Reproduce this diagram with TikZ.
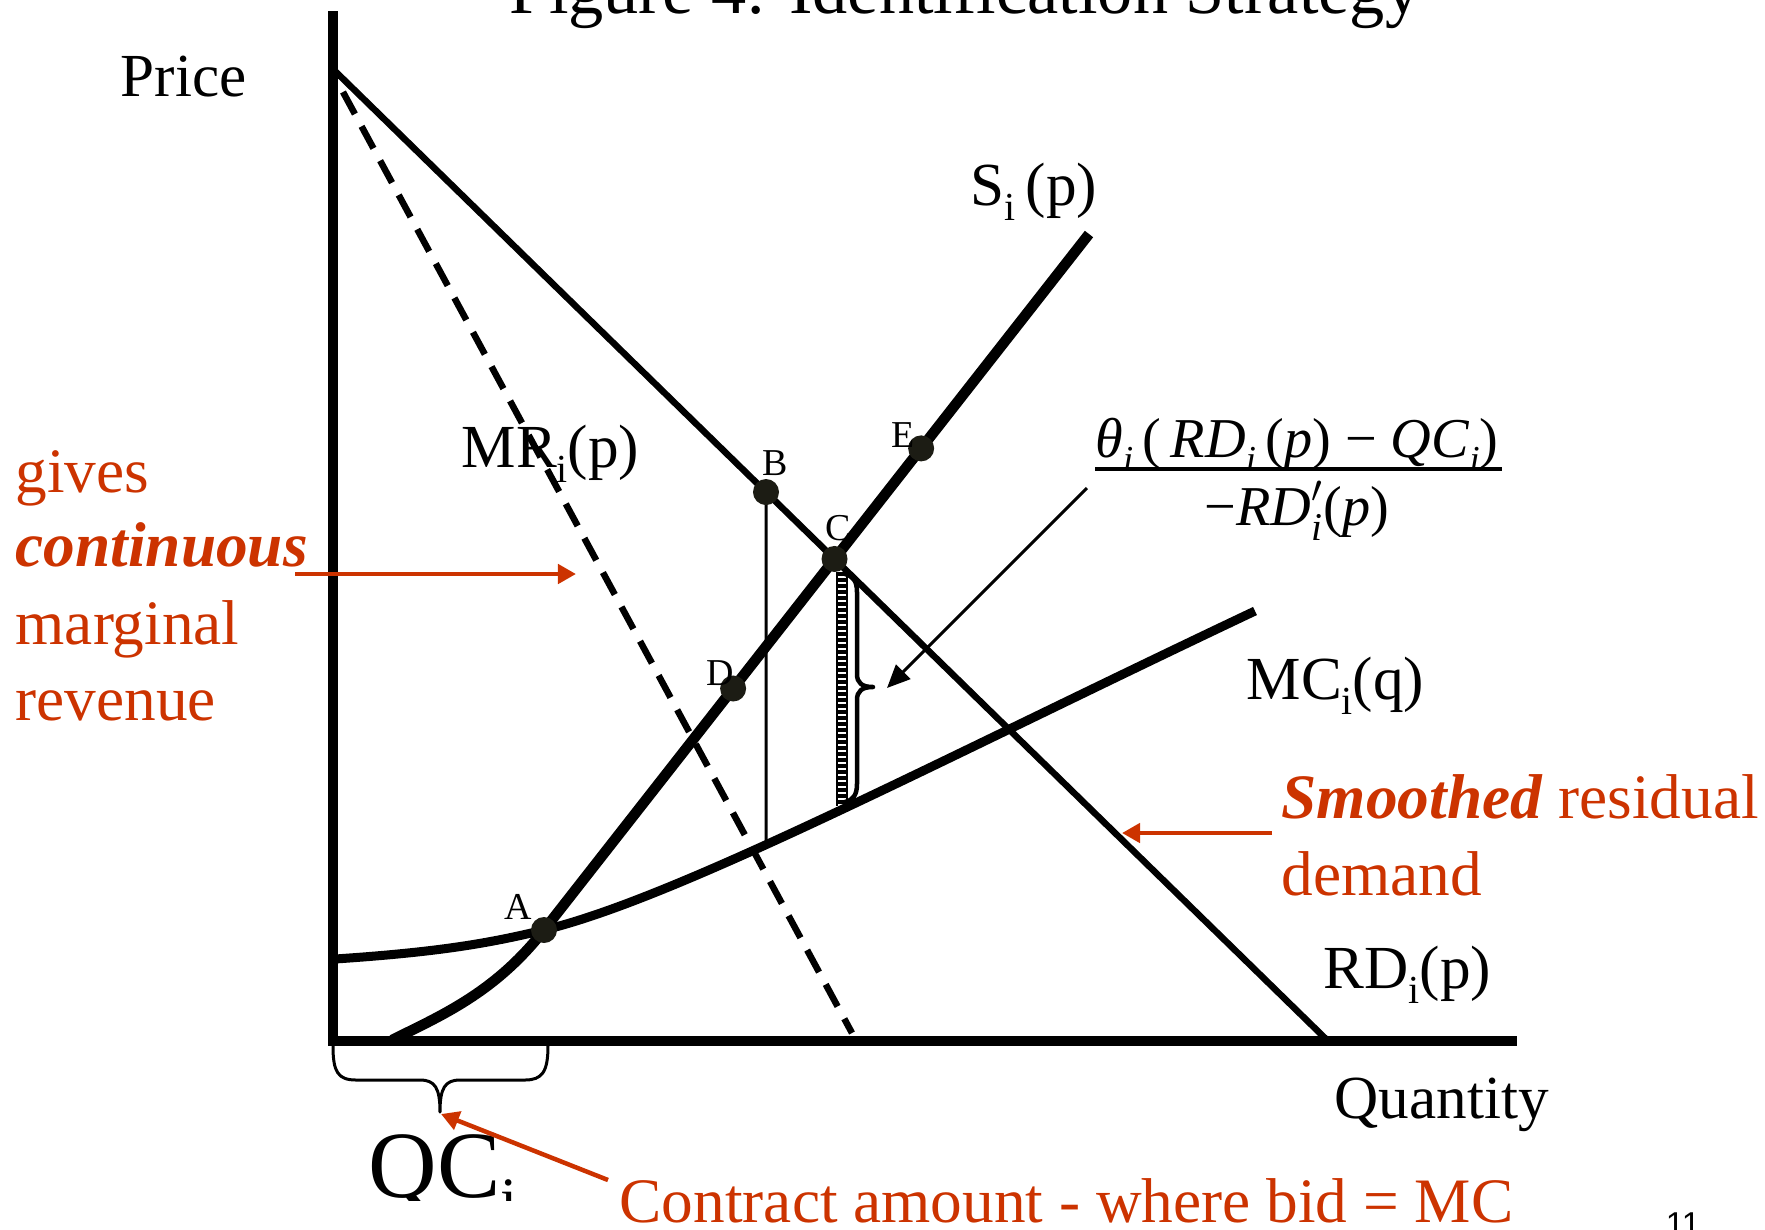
\documentclass[tikz,border=0pt]{standalone}
\usepackage{fontspec}
\setmainfont{Liberation Serif}
\newfontfamily\pagenofont{Liberation Sans}
\usetikzlibrary{arrows.meta,intersections,positioning}
\definecolor{ink}{HTML}{000000}
\definecolor{dotink}{HTML}{1C1C14}
\definecolor{rust}{HTML}{CC3300}
\newcommand{\sbi}{\raisebox{-0.25em}{\scalebox{0.65}{i}}}
\newcommand{\sbit}{\raisebox{-0.25em}{\scalebox{0.65}{\itshape i}}}
\tikzset{
  axis/.style={line width=0.095cm,draw=ink},
  rdline/.style={line width=0.065cm,draw=ink},
  sline/.style={line width=0.105cm,draw=ink},
  mcline/.style={line width=0.09cm,draw=ink},
  mrline/.style={line width=0.065cm,draw=ink,dash pattern=on 0.25cm off 0.14cm},
  guide/.style={line width=0.03cm,draw=ink},
  rail/.style={line width=0.018cm,draw=ink},
  ladder/.style={line width=0.1cm,draw=ink,dash pattern=on 0.035cm off 0.025cm},
  bracepath/.style={line width=0.03cm,draw=ink,line join=round},
  ptdot/.style={circle,fill=dotink,inner sep=0pt,minimum size=0.26cm},
  ptlbl/.style={font=\fontsize{10.8}{13}\selectfont,inner sep=0pt},
  lbl/.style={font=\fontsize{17.4}{21}\selectfont,inner sep=0pt,anchor=base west},
  redlbl/.style={font=\fontsize{18}{21.6}\selectfont,text=rust,inner sep=0pt,anchor=base west},
  fraclbl/.style={font=\fontsize{16}{19}\selectfont,inner sep=0pt,anchor=base},
  redarrow/.style={-{Triangle[length=0.18cm,width=0.19cm]},line width=0.045cm,draw=rust},
  fracarrow/.style={-{Triangle[length=0.23cm,width=0.2cm]},line width=0.03cm,draw=ink}
}
\begin{document}
\begin{tikzpicture}[x=0.01cm,y=-0.01cm]
  \useasboundingbox (0,0) rectangle (1765,1229);
  % axes and titles
  \coordinate (O) at (333,1041);
  \coordinate (ytop) at (333,11);
  \coordinate (xend) at (1517,1041);
  \draw[axis] (ytop) -- (O) -- (xend);
  \node[lbl] (price) at (120,96) {Price};
  \node[lbl] (qty) at (1334,1118) {Quantity};
  \node[font=\fontsize{20}{24}\selectfont,anchor=base,inner sep=0pt] (title) at (965,13) {Figure 4: Identification Strategy};
  \node[font=\pagenofont\fontsize{9.4}{11}\selectfont,anchor=base,inner sep=0pt] (pageno) at (1683,1235) {11};

  % curves
  \coordinate (rdtop) at (336,72);
  \coordinate (rdfoot) at (1328,1041);
  \coordinate (mrtop) at (343,92);
  \coordinate (mrfoot) at (852,1033);
  \coordinate (sfoot) at (392,1040);
  \coordinate (stop) at (1089,234);
  \coordinate (A) at (544,930);
  \draw[mrline] (mrtop) -- (mrfoot);
  \draw[rdline,name path=rd] (rdtop) -- (rdfoot);
  \draw[mcline,name path=mc] (335,959) .. controls (440,952) and (490,943) .. (A)
    .. controls (680,897) and (940,760) .. (1255,611);
  \draw[sline,name path=sup] (sfoot) .. controls (440,1016) and (495,993) .. (A) -- (stop);

  % points on the curves
  \path[name path=bvert] (766,0) -- (766,1100);
  \path[name intersections={of=rd and bvert,by=B}];
  \path[name intersections={of=mc and bvert,by=Bfoot}];
  \path[name intersections={of=rd and sup,by=C}];
  \path (A) -- (stop) coordinate[pos=0.347] (D) coordinate[pos=0.692] (E);
  \draw[guide] (B) -- (Bfoot);

  % markup under C
  \draw[ladder] (842,572) -- (842,806);
  \foreach \rx in {837,847}
    \draw[rail] (\rx,572) -- (\rx,806);
  \draw[bracepath,line width=0.045cm] (845,574) .. controls (853,576) and (857,581) .. (857,592)
    -- (857,674) .. controls (857,683) and (862,687) .. (873,687)
    .. controls (862,687) and (857,691) .. (857,700)
    -- (857,784) .. controls (857,795) and (853,800) .. (845,802);

  \foreach \p in {A,B,C,D,E}
    \node[ptdot] (dot\p) at (\p) {};
  \node[ptlbl] (lblA) at (518,907) {A};
  \node[ptlbl] (lblB) at (775,463) {B};
  \node[ptlbl] (lblC) at (838,528) {C};
  \node[ptlbl] (lblD) at (720,673) {D};
  \node[ptlbl] (lblE) at (903,435) {E};

  \node[lbl] (slbl) at (970,205) {S\sbi\,(p)};
  \node[lbl] (mrlbl) at (461,467) {MR\sbi(p)};
  \node[lbl] (mclbl) at (1246,699) {MC\sbi(q)};
  \node[lbl] (rdlbl) at (1323,988) {RD\sbi(p)};

  % contract brace on the quantity axis
  \draw[bracepath] (333,1046) .. controls (333,1072) and (338,1080) .. (356,1080)
    -- (420,1080) .. controls (435,1080) and (440,1088) .. (440,1112)
    .. controls (440,1088) and (445,1080) .. (460,1080)
    -- (525,1080) .. controls (542,1080) and (548,1072) .. (548,1046);
  \coordinate (qctip) at (441,1114);
  \begin{scope}
    \clip (300,1100) rectangle (600,1200);
    \node[font=\fontsize{27}{32}\selectfont,anchor=base west,inner sep=0pt] (qc) at (368,1197) {QC\sbi};
  \end{scope}

  % markup formula
  \node[fraclbl] (num) at (1297,457) {\textit{θ}\sbit\,(\,\textit{RD}\sbit\,(\textit{p}) − \textit{QC}\sbit)};
  \node[fraclbl] (den) at (1297,525) {−\textit{RD}$'_{\mathit{i}}$(\textit{p})};
  \draw[line width=0.035cm] (1095,469) -- (1502,469);
  \coordinate (fracfoot) at (1087,488);
  \coordinate (fractip) at (887,688);
  \draw[fracarrow] (fracfoot) -- (fractip);

  % red notes
  \foreach \nm/\yy/\word in {gives/492/gives, cont/566/\textbf{\textit{continuous}}, marg/644/marginal, rev/720/revenue}
    \node[redlbl] (\nm) at (15,\yy) {\word};
  \coordinate (contstart) at (295,574);
  \coordinate (mrhit) at (576,574);
  \draw[redarrow] (contstart) -- (mrhit);

  \node[redlbl] (smooth) at (1281,818) {\textbf{\textit{Smoothed}} residual};
  \node[redlbl] (dem) at (1281,895) {demand};
  \coordinate (smstart) at (1272,833);
  \coordinate (rdhit) at (1122,833);
  \draw[redarrow] (smstart) -- (rdhit);

  \node[redlbl] (contract) at (619,1222) {Contract amount - where bid = MC};
  \coordinate (ctstart) at (608,1180);
  \draw[redarrow] (ctstart) -- (qctip);
\end{tikzpicture}
\end{document}
